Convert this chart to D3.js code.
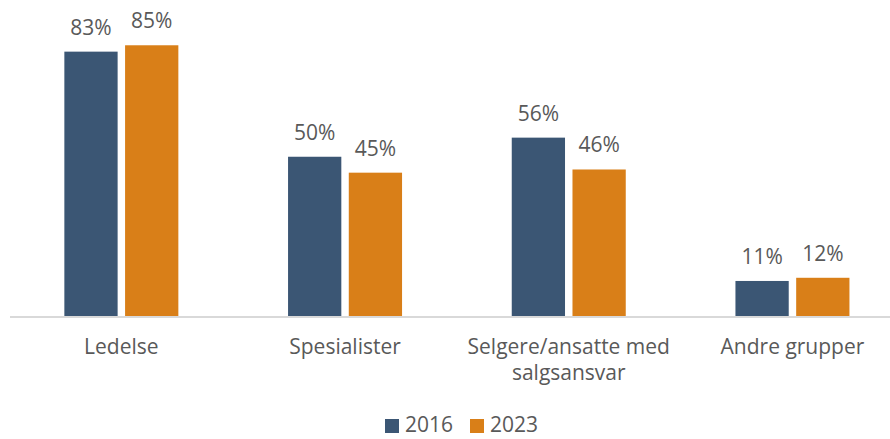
<!DOCTYPE html>
<html>
<head>
<meta charset="utf-8">
<script src="https://cdn.jsdelivr.net/npm/d3@7"></script>
<style>
  body { margin: 0; background: #fff; }
  text { font-family: "Open Sans", sans-serif; fill: #595959; }
</style>
</head>
<body>
<div id="chart"></div>
<script>
const categories = [['Ledelse'], ['Spesialister'], ['Selgere/ansatte med', 'salgsansvar'], ['Andre grupper']];
const seriesNames = ['2016', '2023'];
const values2016 = [0.83, 0.50, 0.56, 0.11];
const values2023 = [0.85, 0.45, 0.46, 0.12];
const colors = ['#3b5674', '#d97f18'];

const svgWidth = 890;
const svgHeight = 439;
const baseline = 316;
const fontSize = '21px';

const svg = d3.select('#chart').append('svg')
    .attr('width', svgWidth)
    .attr('height', svgHeight);

// Category bands extend a bit past the right edge, as in the original crop
const x = d3.scaleBand()
    .domain(d3.range(categories.length))
    .range([9.5, 904.3]);

const xInner = d3.scaleBand()
    .domain(seriesNames)
    .range([0, 114])
    .paddingInner(14 / 114);

const y = d3.scaleLinear()
    .domain([0, 1])
    .range([baseline, baseline - 318.5]);

const groupOffset = (x.bandwidth() - 114) / 2;
const series = [values2016, values2023];

// Bars and value labels
series.forEach((vals, s) => {
    svg.append('g').selectAll('rect')
        .data(vals)
        .enter()
        .append('rect')
            .attr('x', (d, i) => x(i) + groupOffset + xInner(seriesNames[s]))
            .attr('y', d => y(d))
            .attr('width', xInner.bandwidth())
            .attr('height', d => baseline - y(d))
            .attr('fill', colors[s]);

    svg.append('g').selectAll('text')
        .data(vals)
        .enter()
        .append('text')
            .attr('x', (d, i) => x(i) + groupOffset + xInner(seriesNames[s]) + xInner.bandwidth() / 2)
            .attr('y', d => y(d) - 17)
            .attr('text-anchor', 'middle')
            .style('font-size', fontSize)
            .text(d => Math.round(d * 100) + '%');
});

// Axis line
svg.append('line')
    .attr('x1', 10)
    .attr('x2', 890)
    .attr('y1', baseline + 1)
    .attr('y2', baseline + 1)
    .attr('stroke', '#d9d9d9')
    .attr('stroke-width', 2);

// Category labels
const catLabels = svg.append('g').selectAll('text')
    .data(categories)
    .enter()
    .append('text')
        .attr('x', (d, i) => x(i) + x.bandwidth() / 2)
        .attr('y', 354)
        .attr('text-anchor', 'middle')
        .style('font-size', fontSize);

catLabels.selectAll('tspan')
    .data(d => d)
    .enter()
    .append('tspan')
        .attr('x', function() { return d3.select(this.parentNode).attr('x'); })
        .attr('dy', (d, i) => i === 0 ? 0 : 26)
        .text(d => d);

// Legend (kept just inside the bottom edge)
const legendX = [385, 470];
const legend = svg.append('g').selectAll('g')
    .data(seriesNames)
    .enter()
    .append('g')
        .attr('transform', (d, i) => 'translate(' + legendX[i] + ',419)');

legend.append('rect')
    .attr('width', 14)
    .attr('height', 14)
    .attr('fill', (d, i) => colors[i]);

legend.append('text')
    .attr('x', 20)
    .attr('y', 13)
    .style('font-size', fontSize)
    .text(d => d);
</script>
</body>
</html>
